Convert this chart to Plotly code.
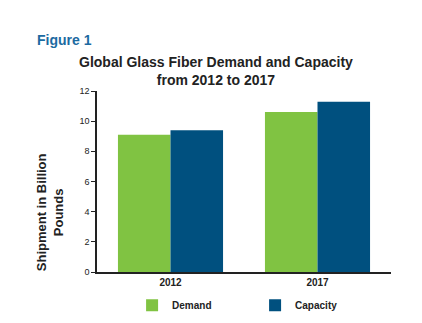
import plotly.graph_objects as go

years = ["2012", "2017"]
demand = [9.1, 10.6]
capacity = [9.4, 11.28]
y_ticks = [0, 2, 4, 6, 8, 10, 12]

GREEN = "#80C342"
BLUE = "#00507F"
FONT = "Arial, Liberation Sans, sans-serif"

fig = go.Figure()
fig.add_trace(go.Bar(name="Demand", x=years, y=demand, marker=dict(color=GREEN, line=dict(width=0))))
fig.add_trace(go.Bar(name="Capacity", x=years, y=capacity, marker=dict(color=BLUE, line=dict(width=0))))

fig.update_layout(
    width=422, height=323,
    margin=dict(l=97, r=31, t=91, b=51, autoexpand=False),
    paper_bgcolor="white", plot_bgcolor="white",
    barmode="group", bargap=0.285, bargroupgap=0,
    font=dict(family=FONT, color="#222222"),
    showlegend=True,
    legend=dict(orientation="h", xref="container", yref="container",
                x=0.313, xanchor="left", y=0.055, yanchor="middle",
                entrywidth=78, entrywidthmode="pixels",
                font=dict(size=10, family=FONT, color="#222222", weight="bold"),
                itemclick=False, bgcolor="rgba(0,0,0,0)"),
    xaxis=dict(showline=True, linecolor="#222222", linewidth=1.5, ticks="",
               tickfont=dict(size=10, family=FONT, color="#222222", weight="bold"),
               range=[-0.5, 1.5], showgrid=False, zeroline=False),
    yaxis=dict(range=[0, 12], tickvals=y_ticks, showline=True, linecolor="#222222", linewidth=1.5,
               ticks="outside", ticklen=4, tickcolor="#222222", tickwidth=1.2,
               tickfont=dict(size=9, family=FONT, color="#222222"),
               showgrid=False, zeroline=False),
)

fig.add_annotation(text="<b>Figure 1</b>", xref="paper", yref="paper", x=-0.21, y=1.0,
                   xanchor="left", yanchor="middle", yshift=51, showarrow=False,
                   font=dict(size=14, family=FONT, color="#1C6AA1"))
fig.add_annotation(text="<b>Global Glass Fiber Demand and Capacity<br>from 2012 to 2017</b>",
                   xref="paper", yref="paper", x=0.406, y=1.0, xanchor="center", yanchor="bottom",
                   yshift=1, showarrow=False, align="center",
                   font=dict(size=14, family=FONT, color="#222222"))
fig.add_annotation(text="<b>Shipment in Billion<br>Pounds</b>", xref="paper", yref="paper",
                   x=-0.16, y=0.33, xanchor="center", yanchor="middle", showarrow=False,
                   textangle=-90, align="center",
                   font=dict(size=13, family=FONT, color="#222222"))

fig.write_html("out.html")
